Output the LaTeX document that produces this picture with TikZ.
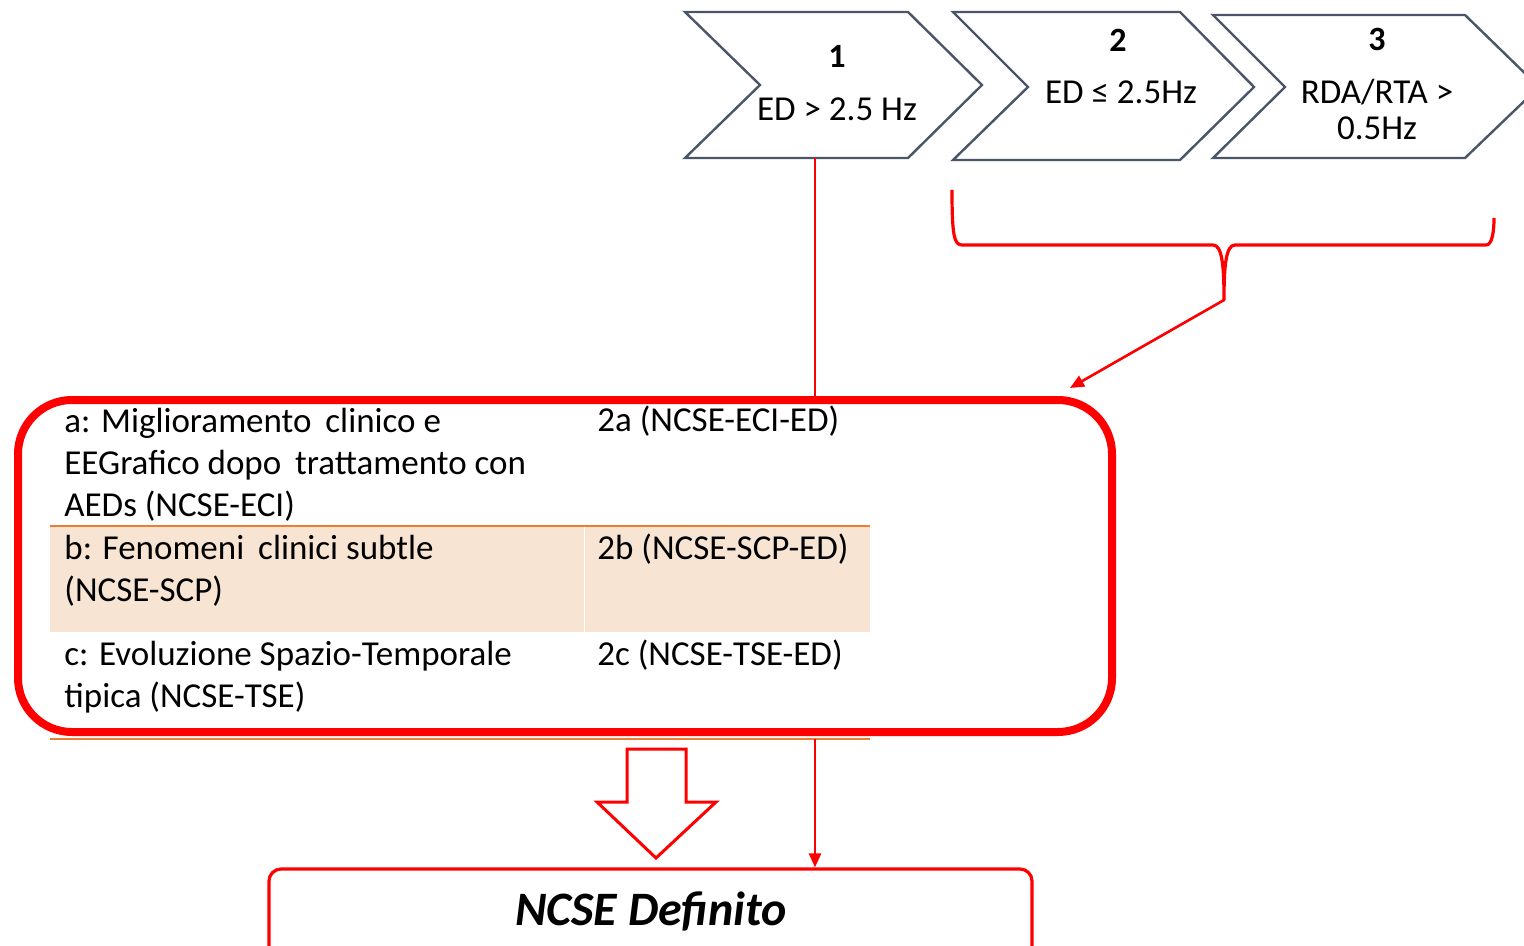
\documentclass[tikz,border=0pt]{standalone}
\usepackage{fontspec}
\setmainfont{Carlito}
\usetikzlibrary{arrows.meta}
\definecolor{chevgray}{HTML}{4A5568}
\definecolor{tabline}{HTML}{ED7D31}
\definecolor{tabshade}{HTML}{F7E4D3}
\definecolor{alarm}{HTML}{FF0000}
\begin{document}
\begin{tikzpicture}[x=0.5pt,y=-0.5pt,
  chev/.style={draw=chevgray,line width=1.2pt,line join=miter,fill=white},
  numtxt/.style={font=\fontsize{17}{18}\selectfont\bfseries,inner sep=0pt,anchor=base},
  chevtxt/.style={font=\fontsize{17.5}{18}\selectfont,inner sep=0pt,anchor=base,align=center},
  celltxt/.style={font=\fontsize{17.5}{21}\selectfont,inner sep=0pt,anchor=base west,align=left},
  redline/.style={draw=alarm,line width=1.3pt},
  tip/.style={-{Triangle[length=7pt,width=6pt]}}
]
\useasboundingbox (0,0) rectangle (1524,946);

% step chevrons
\draw[chev] (685,12) -- (908,12) -- (982,85) -- (908,158) -- (685,158) -- (760,85) -- cycle;
\draw[chev] (953,12) -- (1180,12) -- (1254,87) -- (1180,160) -- (953,160) -- (1028,87) -- cycle;
\draw[chev] (1213,15) -- (1465,15) -- (1539,87) -- (1465,158) -- (1213,158) -- (1285,87) -- cycle;
\node[numtxt] (n1) at (837,68) {1};
\node[chevtxt] (t1) at (837,121) {ED > 2.5 Hz};
\node[numtxt] (n2) at (1118,52) {2};
\node[chevtxt] (t2) at (1121,104) {ED ≤ 2.5Hz};
\node[numtxt] (n3) at (1377,51) {3};
\node[chevtxt] (t3) at (1377,140) {RDA/RTA >\\0.5Hz};
\coordinate (c1b) at (815,158);

% table rows (base anchor sits on the last line)
\fill[tabshade] (50,527) rectangle (870,632);
\draw[white,line width=0.4pt] (584,527) -- (584,632);
\draw[tabline,line width=1.3pt] (50,526) -- (870,526);
\draw[tabline,line width=1.3pt] (50,739) -- (870,739);
\node[celltxt] (ra) at (64,516) {a: Miglioramento\hspace{3pt} clinico e\\EEGrafico dopo\hspace{3pt} trattamento con\\AEDs (NCSE-ECI)};
\node[celltxt] (ra2) at (597,431) {2a (NCSE-ECI-ED)};
\node[celltxt] (rb) at (64,601) {b: Fenomeni\hspace{3pt} clinici subtle\\(NCSE-SCP)};
\node[celltxt] (rb2) at (597,559) {2b (NCSE-SCP-ED)};
\node[celltxt] (rc) at (64,707) {c: Evoluzione Spazio-Temporale\\tipica (NCSE-TSE)};
\node[celltxt] (rc2) at (597,665) {2c (NCSE-TSE-ED)};

% criteria frame
\node[draw=alarm,line width=4pt,rounded corners=27pt,minimum width=547pt,minimum height=166pt,inner sep=0pt] (box) at (565,566) {};

% brace under steps 2 and 3
\coordinate (bt) at (1224,300);
\draw[alarm,line width=1.6pt,line join=round]
  (952,190) .. controls (952,235) and (954,245) .. (962,245) -- (1213,245)
  .. controls (1222,245) and (1224,265) .. (bt)
  .. controls (1224,265) and (1226,245) .. (1235,245) -- (1486,245)
  .. controls (1492,245) and (1494,232) .. (1494,218);
\coordinate (ba) at (1070,388);
\draw[redline,tip] (bt) -- (ba);

% step 1 straight to the frame
\draw[redline] (c1b) -- (c1b |- box.north);

% outcome
\node[draw=alarm,line width=1.6pt,rounded corners=6pt,minimum width=381.5pt,minimum height=56pt,inner sep=0pt] (final) at (650.5,925) {};
\node[font=\fontsize{24}{28}\selectfont\bfseries\itshape,inner sep=0pt,anchor=base] (ftxt) at (651,925) {NCSE Definito};
\coordinate (fa) at (815,739);
\draw[redline,tip] (fa) -- (fa |- final.north);

% hollow block arrow
\draw[alarm,line width=1.5pt,fill=white,line join=miter]
  (627,749) -- (686,749) -- (686,802) -- (716,802) -- (656,858) -- (597,802) -- (627,802) -- cycle;
\end{tikzpicture}
\end{document}
